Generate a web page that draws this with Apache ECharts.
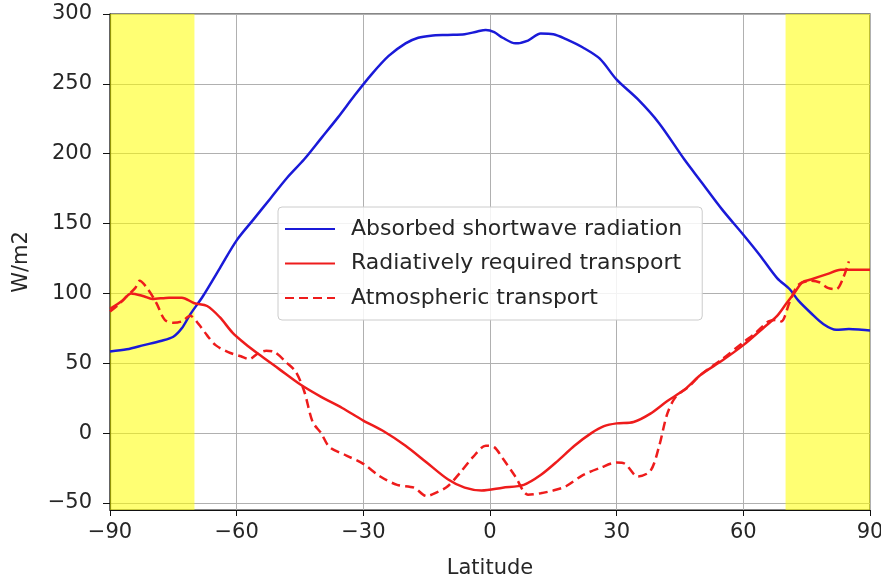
<!DOCTYPE html>
<html>
<head>
<meta charset="utf-8">
<script src="https://cdn.jsdelivr.net/npm/echarts@6/dist/echarts.min.js"></script>
<style>
html,body{margin:0;padding:0;background:#fff;}
#chart{width:881px;height:580px;}
</style>
</head>
<body>
<div id="chart"></div>
<script>
// Absorbed shortwave radiation
const swLat = [-90,-86,-82,-78,-75,-73,-71,-68,-64,-60,-56,-52,-48,-44,-40,-36,-32,-28,-24,-20,-17,-14,-10,-6,-3,-1,1,3,6,9,12,15,18,22,26,30,35,40,46,50,55,60,64,68,71,73,76,79,82,85,88,90];
const swVal = [58.5,60,63,66,69,75,85,98,118,138,153,168,183,196,211,226,242,257,270,279,283,284.5,285,285.5,287.5,288.5,287,283,279,281,286,285.5,282,276,268,253,239,222,196,180,160,142,127,111,103,95,86,78,74,74.5,74,73.5];

// Radiatively required transport
const radLat = [-90,-87,-85,-82,-80,-76,-73,-70,-67,-64,-61,-58,-55,-50,-45,-40,-35,-30,-25,-20,-15,-10,-6,-2,3,8,12,16,20,24,27,30,34,38,42,46,50,55,60,65,68,70,72,74,76,80,83,86,90];
const radVal = [89,95,100,98,96,97,97,93,91,83,72,64,57,46,35,26,18,9,1,-9,-21,-33,-39,-41,-39,-37,-30,-20,-9,0,5,7,8,14,23,31,42,52,63,76,84,92,100,108,110,114,117,117,117];

// Atmospheric transport
const atmLat = [-90,-88,-86,-84,-83,-81,-79,-77,-75,-73,-71,-69,-67,-65,-62,-59,-57,-55,-53,-51,-48,-46,-44,-42,-40,-38,-34,-30,-26,-22,-18,-15,-13,-10,-7,-4,-1,1,3,6,9,12,15,18,22,26,30,32,35,38,40,42,44,47,50,55,60,63,66,68,69,71,73,76,78,80,82,83.5,85];
const atmVal = [87,92,98,104,109,103,93,81,79,80,84,78,70,63,58,55,53,57,59,58,50,44,30,8,0,-10,-16,-22,-31,-37,-39,-45,-43,-38,-28,-17,-9,-10,-18,-31,-44,-43,-41,-38,-30,-25,-21,-22,-31,-27,-10,14,26,33,42,53,65,72,80,81,80,94,106,109,108,104,103,110,123];

// Shaded polar bands (latitude ranges)
const polarBands = [[-90,-70],[70,90]];

// Axis ticks
const xTicks = [-90,-60,-30,0,30,60,90];
const yTicks = [-50,0,50,100,150,200,250,300];

const seriesNames = ['Absorbed shortwave radiation','Radiatively required transport','Atmospheric transport'];

function zip(a,b){return a.map((v,i)=>[v,b[i]]);}
const fmt = v => String(v).replace('-', '\u2212');

const chart = echarts.init(document.getElementById('chart'), null, {renderer:'canvas'});
const FONT = 'DejaVu Sans';
chart.setOption({
  animation:false,
  backgroundColor:'#fff',
  textStyle:{fontFamily:FONT},
  grid:{left:110,right:11,top:14,bottom:70,outerBoundsMode:'none',containLabel:false,
    show:true,borderColor:'#111',borderWidth:1.2,backgroundColor:'transparent'},
  legend:{
    orient:'vertical',left:278,top:207,
    itemWidth:50,itemHeight:20,itemGap:12.5,
    padding:[11,20,11,6],
    backgroundColor:'rgba(255,255,255,0.85)',
    borderColor:'#cccccc',borderWidth:1,borderRadius:4,
    itemStyle:{opacity:0},
    textStyle:{fontFamily:FONT,fontSize:22,color:'#262626',padding:[0,0,0,11]},
    data:seriesNames
  },
  xAxis:{
    type:'value',min:-90,max:90,interval:30,
    axisLine:{show:true,onZero:false,lineStyle:{color:'#111',width:1.2}},
    axisTick:{show:true,length:6,lineStyle:{color:'#111'}},
    axisLabel:{fontFamily:FONT,fontSize:21,color:'#262626',margin:12,formatter:fmt,showMinLabel:true,showMaxLabel:true},
    splitLine:{show:true,lineStyle:{color:'#b0b0b0',width:1}},
    name:'Latitude',nameLocation:'middle',nameGap:48,
    nameTextStyle:{fontFamily:FONT,fontSize:21,color:'#262626'}
  },
  yAxis:{
    type:'value',min:-55,max:300,
    axisLine:{show:true,onZero:false,lineStyle:{color:'#111',width:1.2}},
    axisTick:{show:true,length:7,lineStyle:{color:'#111'},customValues:yTicks},
    axisLabel:{fontFamily:FONT,fontSize:21,color:'#262626',margin:18,formatter:fmt,customValues:yTicks},
    splitLine:{show:true,lineStyle:{color:'#b0b0b0',width:1}},
    name:'W/m2',nameLocation:'middle',nameGap:78,
    nameTextStyle:{fontFamily:FONT,fontSize:21,color:'#262626'}
  },
  series:[
    {
      name:seriesNames[0],type:'line',data:zip(swLat,swVal),symbol:'none',smooth:0.3,
      lineStyle:{color:'#1a1ad8',width:2.5},itemStyle:{color:'#1a1ad8'},z:3,
      markArea:{silent:true,itemStyle:{color:'rgba(255,255,0,0.55)'},
        data:polarBands.map(b=>[{xAxis:b[0]},{xAxis:b[1]}])}
    },
    {
      name:seriesNames[1],type:'line',data:zip(radLat,radVal),symbol:'none',smooth:0.3,
      lineStyle:{color:'#ee1c1c',width:2.5},itemStyle:{color:'#ee1c1c'},z:4
    },
    {
      name:seriesNames[2],type:'line',data:zip(atmLat,atmVal),symbol:'none',smooth:0.3,
      lineStyle:{color:'#ee1c1c',width:2.5,type:[9,5]},itemStyle:{color:'#ee1c1c'},z:4
    }
  ]
});
</script>
</body>
</html>
